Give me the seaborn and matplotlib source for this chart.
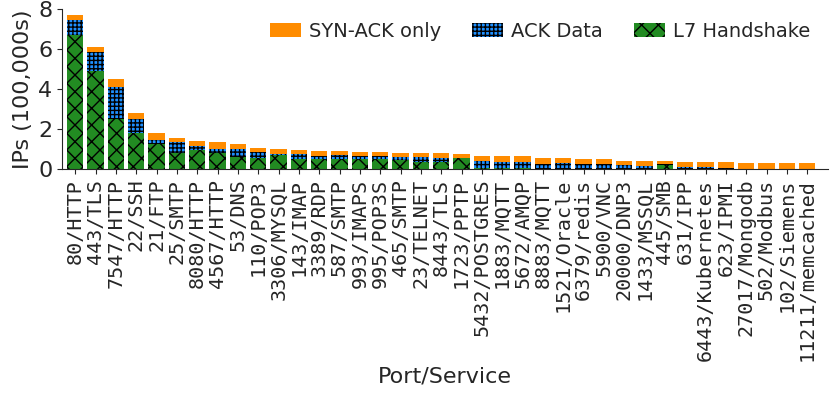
import matplotlib
matplotlib.use("Agg")
import matplotlib.pyplot as plt
import numpy as np
import pandas as pd
import seaborn as sns

ports = [
    "80/HTTP", "443/TLS", "7547/HTTP", "22/SSH", "21/FTP", "25/SMTP",
    "8080/HTTP", "4567/HTTP", "53/DNS", "110/POP3", "3306/MYSQL", "143/IMAP",
    "3389/RDP", "587/SMTP", "993/IMAPS", "995/POP3S", "465/SMTP", "23/TELNET",
    "8443/TLS", "1723/PPTP", "5432/POSTGRES", "1883/MQTT", "5672/AMQP",
    "8883/MQTT", "1521/Oracle", "6379/redis", "5900/VNC", "20000/DNP3",
    "1433/MSSQL", "445/SMB", "631/IPP", "6443/Kubernetes", "623/IPMI",
    "27017/Mongodb", "502/Modbus", "102/Siemens", "11211/memcached",
]
# values in 100,000s of IPs
l7_handshake = [
    6.70, 4.90, 2.50, 1.78, 1.25, 0.78, 0.95, 0.78, 0.62, 0.57, 0.68, 0.50,
    0.50, 0.50, 0.50, 0.50, 0.47, 0.33, 0.33, 0.53, 0.03, 0.03, 0.05, 0.02,
    0.02, 0.02, 0.02, 0.02, 0.02, 0.22, 0.02, 0.01, 0.01, 0.01, 0.01, 0.01,
    0.01,
]
ack_data = [
    0.75, 0.95, 1.58, 0.72, 0.20, 0.58, 0.22, 0.22, 0.38, 0.26, 0.08, 0.25,
    0.17, 0.20, 0.17, 0.17, 0.15, 0.25, 0.22, 0.03, 0.39, 0.34, 0.32, 0.25,
    0.26, 0.21, 0.21, 0.16, 0.13, 0.03, 0.08, 0.08, 0.04, 0.01, 0.01, 0.01,
    0.01,
]
syn_ack_only = [
    0.25, 0.27, 0.42, 0.28, 0.37, 0.20, 0.25, 0.33, 0.25, 0.20, 0.24, 0.20,
    0.25, 0.22, 0.16, 0.16, 0.18, 0.22, 0.23, 0.17, 0.25, 0.26, 0.26, 0.30,
    0.25, 0.25, 0.25, 0.24, 0.23, 0.13, 0.27, 0.28, 0.28, 0.30, 0.30, 0.30,
    0.30,
]

df = pd.DataFrame({
    "port": ports,
    "l7": l7_handshake,
    "ack": ack_data,
    "syn": syn_ack_only,
})
df["ack_top"] = df["l7"] + df["ack"]
df["total"] = df["ack_top"] + df["syn"]

sns.set_style("ticks")
plt.rcParams["font.family"] = ["DejaVu Sans"]
plt.rcParams["hatch.linewidth"] = 1.0

fig, ax = plt.subplots(figsize=(8.3, 3.94), dpi=100)

layers = [
    ("total", "#FF8C00", "", "SYN-ACK only"),
    ("ack_top", "#1E90FF", "++++", "ACK Data"),
    ("l7", "#228B22", "xx", "L7 Handshake"),
]
for col, color, hatch, label in layers:
    sns.barplot(data=df, x="port", y=col, color=color, saturation=1,
                errorbar=None, width=0.8, edgecolor="black", linewidth=0,
                label=label, ax=ax)
    for bar in ax.containers[-1]:
        bar.set_hatch(hatch)

ax.set_ylim(0, 8)
ax.set_yticks([0, 2, 4, 6, 8])
ax.set_xlim(-0.64, 37.0)
ax.set_xlabel("Port/Service", fontsize=16)
ax.set_ylabel("IPs (100,000s)", fontsize=16)
ax.tick_params(axis="y", labelsize=16)
ax.tick_params(axis="x", labelsize=14.5)
for t in ax.get_xticklabels():
    t.set_rotation(90)
    t.set_family("DejaVu Sans Mono")
sns.despine(ax=ax)

ax.legend(loc="upper right", ncol=3, frameon=False, fontsize=14,
          handlelength=1.6, handletextpad=0.4, columnspacing=1.6,
          bbox_to_anchor=(1.0, 1.03))

fig.subplots_adjust(left=0.075, right=0.997, top=0.977, bottom=0.571)
fig.savefig("out.png", dpi=100)
plt.close(fig)
